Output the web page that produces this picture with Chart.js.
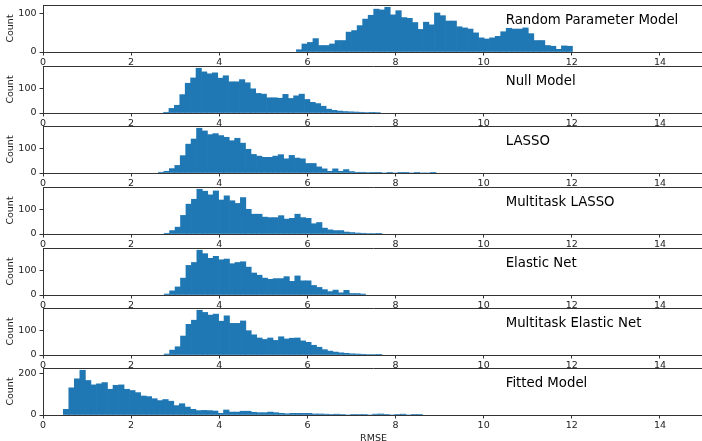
<!DOCTYPE html>
<html><head><meta charset="utf-8">
<script src="https://cdn.jsdelivr.net/npm/chart.js@4.4.0/dist/chart.umd.min.js"></script>
<style>
html,body{margin:0;padding:0;background:#fff;width:702px;height:441px;overflow:hidden;position:relative}
canvas{position:absolute;left:0}
</style></head><body>
<script>
// ---- data ----
const panelNames = ["Random Parameter Model","Null Model","LASSO","Multitask LASSO","Elastic Net","Multitask Elastic Net","Fitted Model"];
const xTickValues = [0,2,4,6,8,10,12,14];
const yTickValues = [[0,100],[0,100],[0,100],[0,100],[0,100],[0,100],[0,200]];
// histogram bin grid (left edge of first bin, bin width) per panel
const binStarts = [5.75, 2.735, 2.62, 2.75, 2.75, 2.75, 0.46];
const binWidths = [0.1253, 0.123, 0.1235, 0.1235, 0.1235, 0.1235, 0.1254];

const randomParamCounts = [6,21,25,35,17,17,21,30,30,52,56,69,86,96,112,110,117,97,108,90,88,77,59,78,71,102,95,81,81,66,63,60,50,37,34,37,41,53,62,60,60,63,48,30,30,17,15,7,16,15];
const nullModelCounts = [3,19,32,76,123,145,185,170,162,166,144,154,129,129,138,125,100,81,78,63,63,61,77,60,71,78,56,44,39,28,16,11,8,6,5,4,3,2,1,2];
const lassoCounts = [3,7,18,31,71,118,139,183,172,157,161,153,146,132,142,122,97,76,69,64,64,69,75,58,72,61,58,39,39,25,17,7,17,7,14,6,3,3,2,1,1,0,1,0,1,1,0,1,0,0,1];
const multiLassoCounts = [3,14,28,76,122,142,183,175,160,176,139,156,136,125,149,101,81,81,69,67,67,75,61,64,81,67,64,42,47,24,17,14,14,8,6,4,3,2,2,1];
const elasticNetCounts = [4,17,33,69,121,133,183,169,150,158,144,147,128,133,136,114,90,81,69,64,67,67,75,56,78,58,58,39,31,22,14,20,9,19,6,6,4];
const multiElasticCounts = [4,20,34,78,126,143,184,175,164,168,139,161,130,130,140,100,83,70,64,70,60,75,66,69,70,58,52,40,32,22,16,12,9,7,5,4,3,2,2,1];
const fittedCounts = [27,130,173,214,165,144,149,155,123,142,144,123,117,107,91,88,78,69,74,66,45,54,38,27,21,22,21,19,8,24,14,14,18,18,13,11,11,14,11,8,6,8,8,8,8,5,5,4,3,4,2,0,3,2,3,0,4,5,3,0,3,4,0,3,3];

const allCounts = [randomParamCounts,nullModelCounts,lassoCounts,multiLassoCounts,elasticNetCounts,multiElasticCounts,fittedCounts];

// ---- layout ----
const panelTops = [5,66,126,187,248,308,368];
const plotH = 47;
const FONT = "DejaVu Sans";
Chart.defaults.font.family = FONT;

const framePlugin = {
  id: 'panelFrame',
  afterDraw(chart, args, opts) {
    const {ctx, chartArea: a, scales} = chart;
    ctx.save();
    ctx.strokeStyle = '#333';
    ctx.lineWidth = 1;
    ctx.beginPath();
    ctx.moveTo(a.left, Math.round(a.top) + 0.5);
    ctx.lineTo(a.right, Math.round(a.top) + 0.5);
    ctx.moveTo(Math.round(a.right) - 0.5, a.top);
    ctx.lineTo(Math.round(a.right) - 0.5, a.bottom);
    ctx.stroke();
    ctx.font = '13.3px "' + FONT + '"';
    ctx.fillStyle = '#000';
    ctx.textBaseline = 'middle';
    ctx.textAlign = 'left';
    ctx.fillText(opts.text, scales.x.getPixelForValue(10.5), a.top + 15.5);
    ctx.restore();
  }
};

allCounts.forEach((counts, i) => {
  const isLast = i === allCounts.length - 1;
  const axisH = isLast ? 29 : 16;
  const h = 5 + plotH + axisH;
  const cv = document.createElement('canvas');
  cv.width = 704; cv.height = h;
  cv.style.top = (panelTops[i] - 5) + 'px';
  cv.style.width = '704px'; cv.style.height = h + 'px';
  document.body.appendChild(cv);
  const data = counts.map((c, k) => ({x: binStarts[i] + (k + 0.5) * binWidths[i], y: c}));
  const tickFont = {family: FONT, size: 9.5};
  new Chart(cv, {
    type: 'bar',
    data: {datasets: [{data, backgroundColor: '#1f77b4', borderWidth: 0, barPercentage: 1, categoryPercentage: 1}]},
    options: {
      responsive: false, animation: false, events: [],
      layout: {padding: {top: 5, left: 0, right: 0, bottom: 0}},
      plugins: {legend: {display: false}, tooltip: {enabled: false}, panelFrame: {text: panelNames[i]}},
      scales: {
        x: {
          type: 'linear', min: 0, max: 15, offset: false, z: 1,
          afterBuildTicks: s => { s.ticks = xTickValues.map(v => ({value: v})); },
          afterFit: s => { s.height = axisH; s.paddingLeft = 0; s.paddingRight = 0; },
          grid: {display: true, drawOnChartArea: false, drawTicks: true, tickLength: 3.5, color: '#333', offset: false},
          border: {display: true, color: '#333', width: 1},
          ticks: {padding: 1, color: '#222', font: tickFont, maxRotation: 0, autoSkip: false},
          title: {display: isLast, text: 'RMSE', color: '#222', font: tickFont, padding: 0}
        },
        y: {
          min: 0, max: Math.max(...counts) * 1.05, z: 1,
          afterBuildTicks: s => { s.ticks = yTickValues[i].map(v => ({value: v})); },
          afterFit: s => { s.width = 43; s.paddingTop = 0; s.paddingBottom = 0; },
          grid: {display: true, drawOnChartArea: false, drawTicks: true, tickLength: 3.5, color: '#333'},
          border: {display: true, color: '#333', width: 1},
          ticks: {padding: 3, color: '#222', font: tickFont},
          title: {display: true, text: 'Count', color: '#222', font: tickFont, padding: {top: 5, bottom: 0}}
        }
      }
    },
    plugins: [framePlugin]
  });
});
</script>
</body></html>
